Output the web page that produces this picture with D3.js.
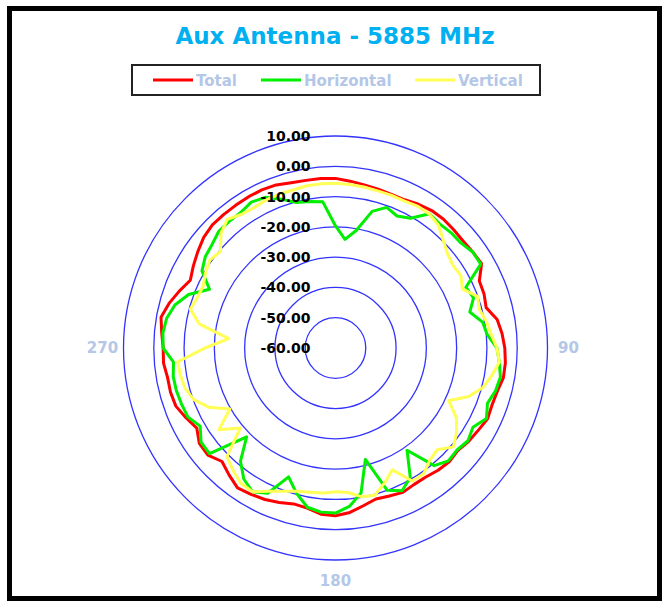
<!DOCTYPE html>
<html>
<head>
<meta charset="utf-8">
<script src="https://cdn.jsdelivr.net/npm/d3@7"></script>
<style>
  body { margin: 0; background: #fff; }
  svg text { font-family: "DejaVu Sans", Verdana, sans-serif; font-weight: bold; }
</style>
</head>
<body>
<div id="chart"></div>
<script>
// Angles in degrees, clockwise from top (5 degree steps)
const angles = d3.range(0, 360, 5);

// Gain in dB at each angle
const total = [
  -4.0, -4.7, -5.3, -5.7, -6.0, -6.0, -5.2, -4.6, -4.5, -4.8, -5.0, -4.7,
  -4.3, -7.6, -7.8, -8.5, -5.8, -4.8, -4.1, -3.7, -3.7, -4.7, -5.0, -4.6,
  -5.6, -6.3, -7.3, -6.9, -7.3, -8.0, -8.0, -7.4, -8.0, -8.4, -7.1, -5.5,
  -4.6, -4.9, -6.3, -6.7, -5.7, -4.8, -4.2, -3.6, -5.3, -7.0, -5.0, -5.1,
  -7.1, -5.5, -3.9, -3.6, -3.7, -3.0, -3.1, -2.4, -1.5, -3.1, -5.1, -7.1,
  -5.8, -4.5, -3.2, -2.5, -2.5, -2.5, -2.4, -2.4, -2.7, -3.5, -3.8, -3.8
];
const horizontal = [
  -19.7, -24.0, -20.6, -13.3, -10.6, -11.9, -10.5, -5.9, -6.5, -6.1, -6.0, -4.7,
  -4.6, -12.5, -11.5, -14.1, -10.7, -9.7, -6.7, -5.7, -4.7, -5.3, -6.6, -5.0,
  -7.6, -6.6, -7.6, -7.3, -9.3, -18.8, -10.6, -8.0, -10.0, -21.9, -11.4, -7.5,
  -5.5, -5.6, -6.6, -10.3, -14.7, -7.1, -5.2, -7.2, -11.2, -18.5, -5.7, -5.8,
  -8.4, -6.2, -5.9, -5.6, -5.6, -6.3, -3.1, -2.8, -3.4, -5.1, -8.4, -14.1,
  -9.1, -7.5, -6.8, -5.5, -5.4, -5.4, -4.4, -5.1, -7.7, -10.3, -10.9, -11.5
];
const vertical = [
  -5.6, -5.8, -6.0, -6.3, -6.3, -6.4, -5.9, -6.0, -7.1, -9.7, -11.7, -12.6,
  -12.2, -13.8, -10.1, -10.8, -9.4, -8.4, -6.7, -5.7, -7.6, -9.6, -13.2, -18.8,
  -13.9, -11.2, -9.2, -12.5, -11.6, -9.3, -9.3, -15.6, -12.6, -9.7, -10.1, -12.1,
  -12.5, -11.9, -11.6, -11.0, -9.7, -7.8, -5.2, -5.5, -7.3, -9.3, -18.9, -13.0,
  -19.7, -13.8, -10.2, -8.6, -8.0, -7.7, -16.9, -24.6, -14.3, -10.4, -11.4, -11.8,
  -10.4, -9.4, -10.4, -6.5, -4.5, -6.1, -6.4, -6.0, -5.9, -6.0, -5.6, -5.6
];

const ringTicks = [10, 0, -10, -20, -30, -40, -50, -60];
const angleLabels = [
  { deg: 90, text: "90" },
  { deg: 180, text: "180" },
  { deg: 270, text: "270" }
];

const series = [
  { name: "Total", values: total, color: "#ff0000" },
  { name: "Horizontal", values: horizontal, color: "#00ee00" },
  { name: "Vertical", values: vertical, color: "#ffff55" }
];

const width = 665;
const height = 603;
const cx = 335.5;
const cy = 348;
const outerR = 212;

const svg = d3.select("#chart").append("svg")
  .attr("width", width)
  .attr("height", height);

// outer frame
svg.append("rect")
  .attr("x", 9.5).attr("y", 8.5)
  .attr("width", 650).attr("height", 590)
  .attr("fill", "#fff")
  .attr("stroke", "#000")
  .attr("stroke-width", 5);

// title
svg.append("text")
  .attr("x", 335).attr("y", 44)
  .attr("text-anchor", "middle")
  .style("font-size", "23px")
  .style("fill", "#00b0f0")
  .text("Aux Antenna - 5885 MHz");

// legend
const legend = svg.append("g");
legend.append("rect")
  .attr("x", 132).attr("y", 65)
  .attr("width", 408).attr("height", 30)
  .attr("fill", "#fff")
  .attr("stroke", "#222")
  .attr("stroke-width", 2);

const legendX = [153, 261, 415];
series.forEach((s, i) => {
  const g = legend.append("g").attr("transform", `translate(${legendX[i]}, 80)`);
  g.append("line")
    .attr("x1", 0).attr("x2", 40)
    .attr("y1", 0).attr("y2", 0)
    .attr("stroke", s.color)
    .attr("stroke-width", 3);
  g.append("text")
    .attr("x", 43).attr("y", 5.5)
    .style("font-size", "15px")
    .style("fill", "#b4c7e7")
    .text(s.name);
});

const r = d3.scaleLinear().domain([-60, 10]).range([0, outerR]);

const plot = svg.append("g").attr("transform", `translate(${cx}, ${cy})`);

// grid rings
plot.selectAll("circle.ring")
  .data(ringTicks.filter(d => d > -60))
  .enter().append("circle")
  .attr("class", "ring")
  .attr("r", d => r(d))
  .attr("fill", "none")
  .attr("stroke", "#3333ff")
  .attr("stroke-width", 1.3);

// series lines
const line = d3.lineRadial()
  .angle((d, i) => angles[i] * Math.PI / 180)
  .radius(d => r(d))
  .curve(d3.curveLinearClosed);

series.forEach(s => {
  plot.append("path")
    .attr("d", line(s.values))
    .attr("fill", "none")
    .attr("stroke", s.color)
    .attr("stroke-width", 3)
    .attr("stroke-linejoin", "round");
});

// ring value labels
plot.selectAll("text.tick")
  .data(ringTicks)
  .enter().append("text")
  .attr("class", "tick")
  .attr("x", -25)
  .attr("y", d => -r(d))
  .attr("dy", "0.36em")
  .attr("text-anchor", "end")
  .style("font-size", "14px")
  .style("fill", "#000")
  .text(d => d.toFixed(2));

// angle labels
plot.selectAll("text.angle")
  .data(angleLabels)
  .enter().append("text")
  .attr("class", "angle")
  .attr("x", d => (outerR + 21) * Math.sin(d.deg * Math.PI / 180))
  .attr("y", d => -(outerR + 21) * Math.cos(d.deg * Math.PI / 180))
  .attr("dy", "0.36em")
  .attr("text-anchor", "middle")
  .style("font-size", "15px")
  .style("fill", "#b4c7e7")
  .text(d => d.text);
</script>
</body>
</html>
